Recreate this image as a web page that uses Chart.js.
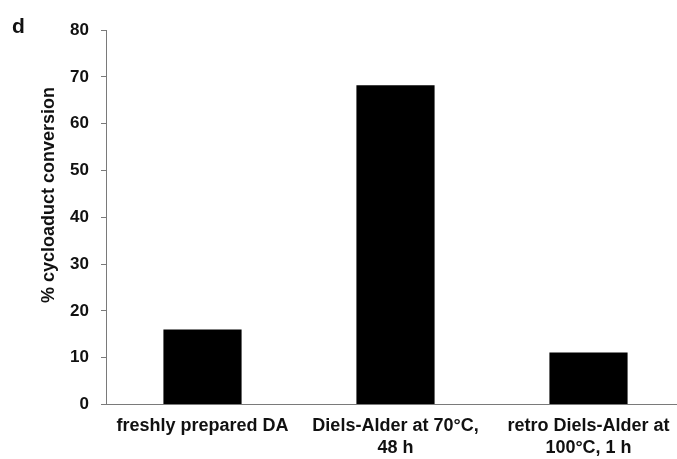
<!DOCTYPE html>
<html>
<head>
<meta charset="utf-8">
<script src="https://cdn.jsdelivr.net/npm/chart.js@4"></script>
<style>
  html, body { margin: 0; padding: 0; background: #fff; overflow: hidden; }
  #wrap { position: relative; width: 677px; height: 459px; overflow: hidden; }
  #panel { position: absolute; left: 12px; top: 15px; font: bold 21px/1 "Liberation Sans", Arial, sans-serif; color: #111; }
  canvas { position: absolute; left: 0; top: 0; }
</style>
</head>
<body>
<div id="wrap">
  <canvas id="chart" width="686" height="459"></canvas>
  <div id="panel">d</div>
</div>
<script>
// categories and values
const categories = [
    ["freshly prepared DA"],
    ["Diels-Alder at 70°C,", "48 h"],
    ["retro Diels-Alder at", "100°C, 1 h"]
];
const conversion = [16, 68.2, 11.1];
const yTicks = [0, 10, 20, 30, 40, 50, 60, 70, 80];
const yTitle = "% cycloaduct conversion";

const fontFamily = '"Liberation Sans", Arial, sans-serif';

// y title sits a bit above the middle of the axis in the figure, so draw it by hand
const yTitlePlugin = {
    id: "yTitle",
    afterDraw(chart) {
        const c = chart.ctx;
        c.save();
        c.translate(49, 195);
        c.rotate(-Math.PI / 2);
        c.font = "bold 18px " + fontFamily;
        c.fillStyle = "#111";
        c.textAlign = "center";
        c.textBaseline = "middle";
        c.fillText(yTitle, 0, 0);
        c.restore();
    }
};

document.addEventListener("DOMContentLoaded", function () {
    const ctx = document.getElementById("chart").getContext("2d");
    new Chart(ctx, {
        type: "bar",
        data: {
            labels: categories,
            datasets: [{
                data: conversion,
                backgroundColor: "#000",
                borderWidth: 0,
                barPercentage: 0.405,
                categoryPercentage: 1
            }]
        },
        plugins: [yTitlePlugin],
        options: {
            responsive: false,
            animation: false,
            layout: { padding: { top: 30, right: 1, bottom: 0, left: 0 } },
            plugins: { legend: { display: false }, tooltip: { enabled: false } },
            scales: {
                x: {
                    grid: { display: true, drawOnChartArea: false, drawTicks: false },
                    border: { color: "#7a7a7a", width: 1 },
                    ticks: {
                        color: "#111",
                        padding: 11,
                        maxRotation: 0,
                        autoSkip: false,
                        font: { family: fontFamily, size: 18, weight: "bold", lineHeight: 1.2 }
                    },
                    afterFit: function (scale) { scale.height = 54.5; }
                },
                y: {
                    min: 0,
                    max: 80,
                    afterBuildTicks: function (scale) {
                        scale.ticks = yTicks.map(v => ({ value: v }));
                    },
                    grid: { display: true, drawOnChartArea: false, drawTicks: true, tickLength: 5, color: "#7a7a7a" },
                    border: { color: "#7a7a7a", width: 1 },
                    ticks: {
                        color: "#111",
                        padding: 12,
                        font: { family: fontFamily, size: 17, weight: "bold" }
                    },
                    afterFit: function (scale) { scale.width = 106; }
                }
            }
        }
    });
});
</script>
</body>
</html>
